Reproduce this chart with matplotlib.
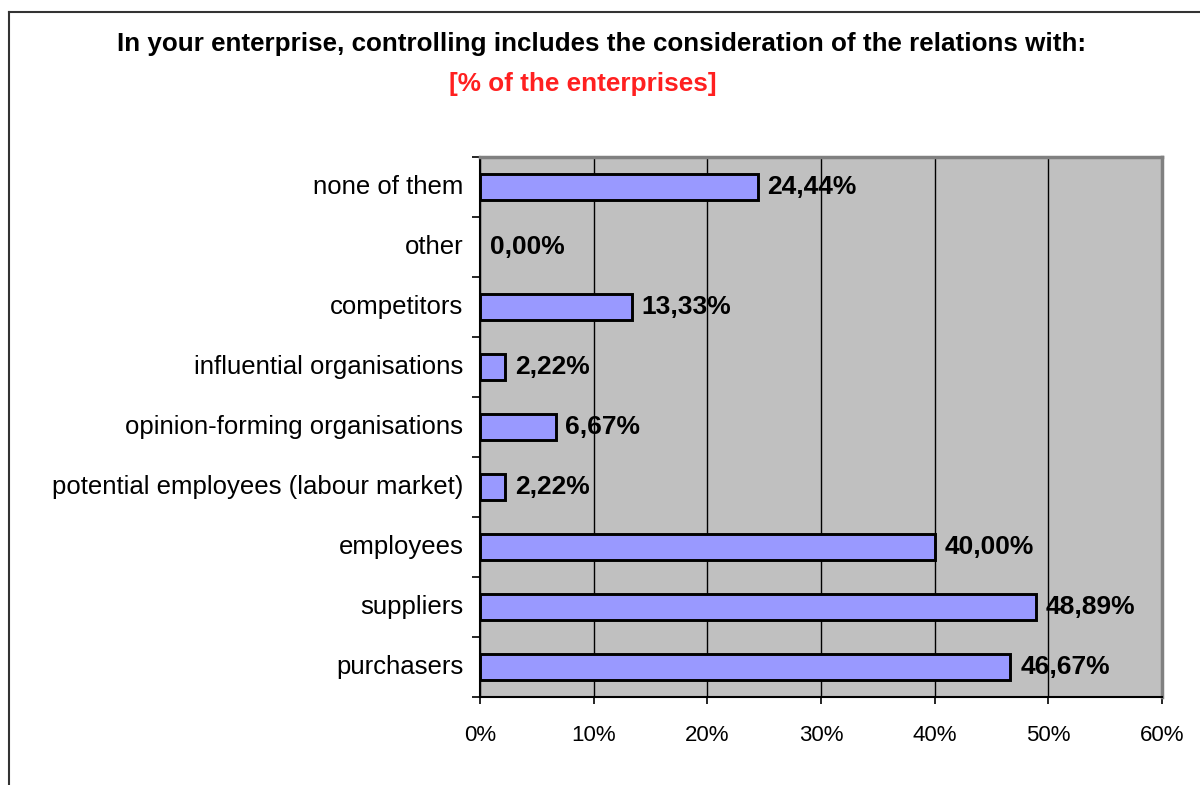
import numpy as np
import matplotlib.pyplot as plt
from matplotlib.lines import Line2D
from matplotlib.transforms import ScaledTranslation

plt.rcParams['font.family'] = ['Liberation Sans', 'DejaVu Sans']

categories = ['purchasers', 'suppliers', 'employees',
              'potential employees (labour market)',
              'opinion-forming organisations', 'influential organisations',
              'competitors', 'other', 'none of them']
values = [46.67, 48.89, 40.00, 2.22, 6.67, 2.22, 13.33, 0.00, 24.44]
xticks = [0, 10, 20, 30, 40, 50, 60]

fig = plt.figure(figsize=(12, 7.85), dpi=100)
ax = fig.add_axes([480 / 1200, 1 - 697 / 785, 682 / 1200, 540 / 785])

ax.set_facecolor('#C0C0C0')
y = np.arange(len(categories))
# empty bars get no outline
edge_widths = [2.1 if v > 0 else 0 for v in values]
ax.barh(y, values, height=0.42, color='#9999FF', edgecolor='black',
        linewidth=edge_widths, zorder=3)

for yi, v in zip(y, values):
    ax.text(v + 0.85, yi, f'{v:.2f}%'.replace('.', ','), va='center',
            ha='left', fontsize=19, fontweight='bold', color='black', zorder=4)

ax.set_xlim(0, 60)
ax.set_ylim(-0.5, len(categories) - 0.5)
ax.set_xticks(xticks)
ax.set_xticklabels([f'{t}%' for t in xticks], fontsize=16)
ax.xaxis.grid(True, color='black', linewidth=1, zorder=1)
ax.set_axisbelow(True)

ax.set_yticks(y)
ax.set_yticklabels(categories, fontsize=18.5)
ax.tick_params(axis='y', length=0, pad=12)
ax.set_yticks(np.arange(len(categories) + 1) - 0.5, minor=True)
ax.tick_params(axis='y', which='minor', length=6, width=1.2, direction='out')
ax.tick_params(axis='x', length=5, width=1.2, direction='out', pad=15)

# nudge category names up a little
shift = ScaledTranslation(0, 0.025, fig.dpi_scale_trans)
for lbl in ax.get_yticklabels():
    lbl.set_transform(lbl.get_transform() + shift)

ax.spines['left'].set_color('black')
ax.spines['left'].set_linewidth(1.5)
ax.spines['bottom'].set_color('black')
ax.spines['bottom'].set_linewidth(1.5)
for s in ['top', 'right']:
    ax.spines[s].set_color('#808080')
    ax.spines[s].set_linewidth(2.5)

fig.text(0.5015, 1 - 44 / 785, 'In your enterprise, controlling includes the consideration of the relations with:',
         ha='center', va='center', fontsize=18.7, fontweight='bold')
fig.text(0.486, 1 - 84 / 785, '[% of the enterprises]', ha='center', va='center',
         fontsize=18.8, fontweight='bold', color='#FF2020')

# outer frame
fig.add_artist(Line2D([9 / 1200, 1], [1 - 12 / 785, 1 - 12 / 785],
                      transform=fig.transFigure, color='#333333', linewidth=1.5))
fig.add_artist(Line2D([9 / 1200, 9 / 1200], [0, 1 - 12 / 785],
                      transform=fig.transFigure, color='#333333', linewidth=1.5))

fig.savefig('out.png', dpi=100)
